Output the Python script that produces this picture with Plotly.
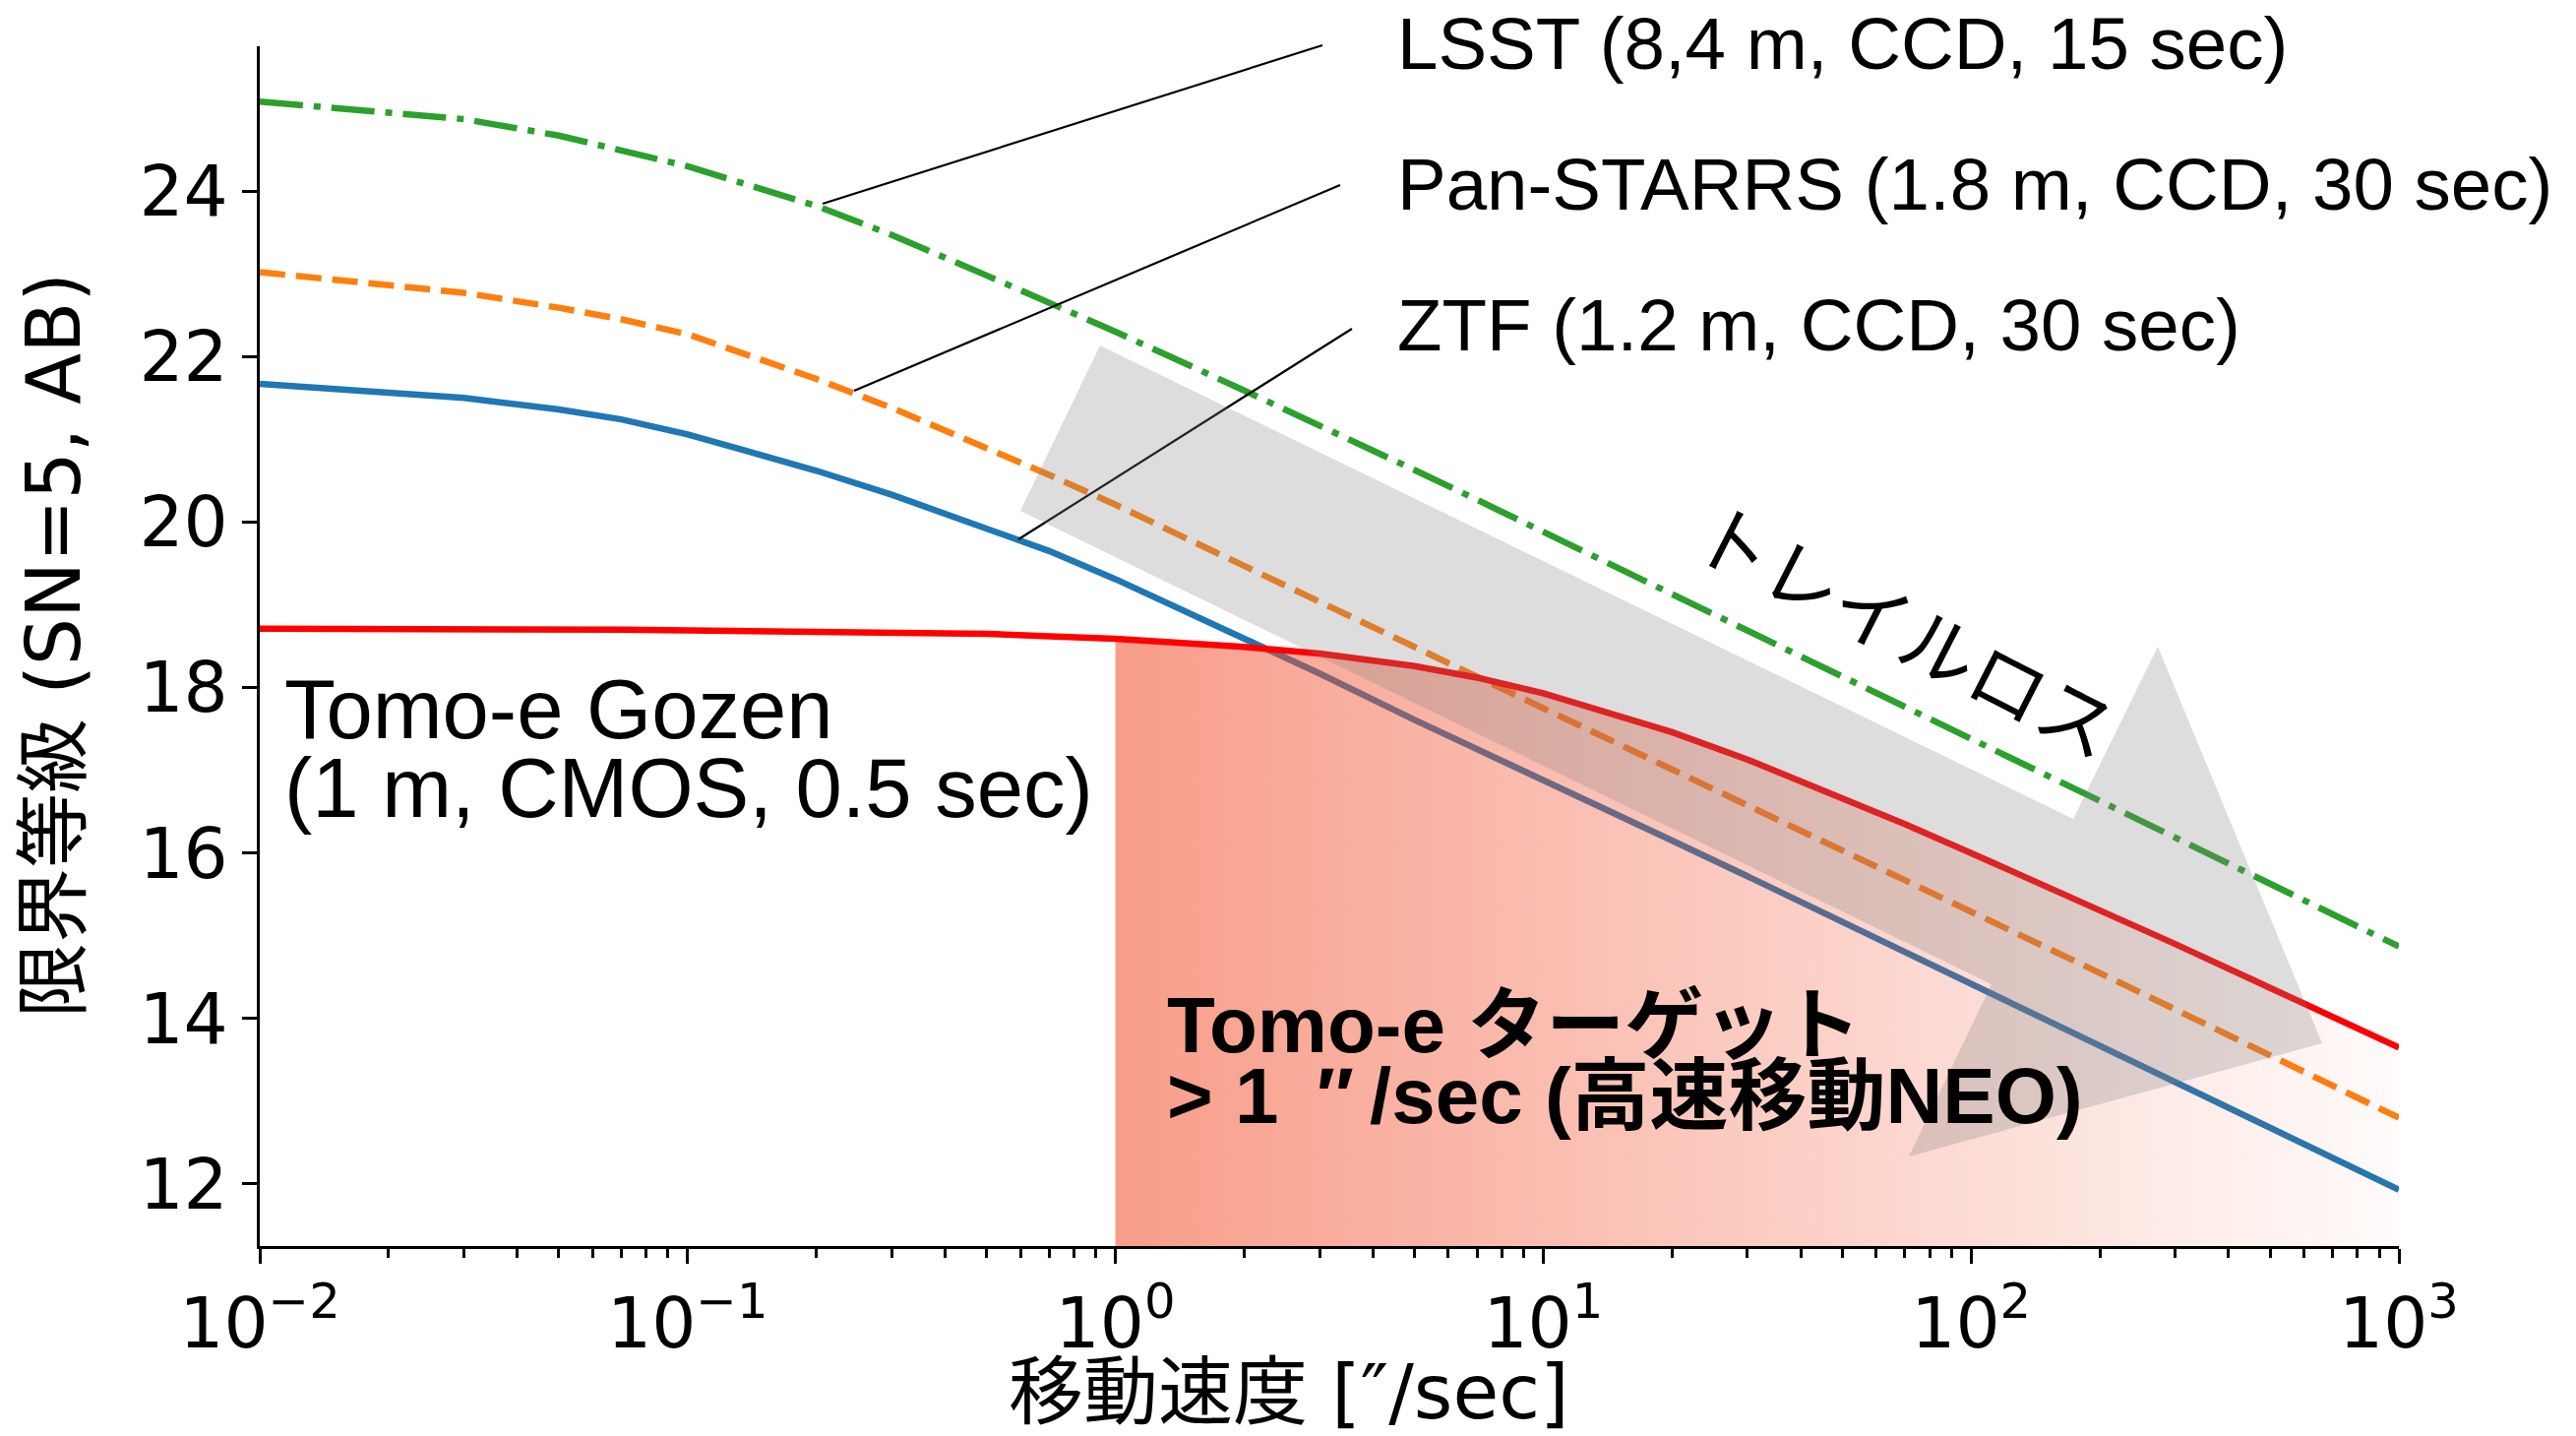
import plotly.graph_objects as go

# ---------------- data ----------------
speed = [0.01, 0.03, 0.05, 0.07, 0.1, 0.2, 0.3, 0.5, 0.7, 1, 2, 3, 5, 7,
         10, 20, 30, 50, 70, 100, 200, 300, 500, 700, 1000]
ztf = [21.67, 21.50, 21.36, 21.24, 21.06, 20.62, 20.33, 19.93, 19.65, 19.31,
       18.59, 18.17, 17.61, 17.26, 16.89, 16.15, 15.72, 15.17, 14.81, 14.43,
       13.68, 13.24, 12.69, 12.32, 11.93]
panstarrs = [23.02, 22.77, 22.59, 22.45, 22.27, 21.73, 21.38, 20.90, 20.57, 20.21,
             19.47, 19.04, 18.50, 18.14, 17.76, 17.02, 16.59, 16.04, 15.68, 15.30,
             14.55, 14.11, 13.55, 13.19, 12.80]
lsst = [25.08, 24.87, 24.67, 24.50, 24.30, 23.82, 23.47, 22.98, 22.65, 22.30,
        21.59, 21.17, 20.63, 20.27, 19.88, 19.13, 18.69, 18.13, 17.76, 17.38,
        16.63, 16.19, 15.63, 15.26, 14.87]
tomoe = [18.71, 18.71, 18.70, 18.70, 18.69, 18.68, 18.67, 18.65, 18.62, 18.59,
         18.49, 18.41, 18.26, 18.12, 17.93, 17.46, 17.13, 16.67, 16.35, 16.00,
         15.31, 14.90, 14.37, 14.02, 13.65]
target_speed = 1  # Tomo-e target region starts at 1 "/sec

xtick_vals = [0.01, 0.1, 1, 10, 100, 1000]
xtick_text = ["10<sup>\u22122</sup>", "10<sup>\u22121</sup>", "10<sup>0</sup>",
              "10<sup>1</sup>", "10<sup>2</sup>", "10<sup>3</sup>"]
ytick_vals = [12, 14, 16, 18, 20, 22, 24]

# ---------------- geometry ----------------
W, H = 2618, 1459
ML, MR, MT, MB = 264, 180, 47, 193
PW = W - ML - MR
PH = H - MT - MB


def pp(x, y):
    """pixel position -> paper coordinates"""
    return (x - ML) / PW, (H - MB - y) / PH


TICK_FONT = "DejaVu Sans, Noto Sans CJK JP, sans-serif"
LABEL_FONT = "Liberation Sans, Arial, Noto Sans CJK JP, sans-serif"
CJK_FONT = "Noto Sans CJK JP, sans-serif"
LW = 6.5

fig = go.Figure()
fig.add_trace(go.Scatter(x=speed, y=ztf, mode="lines",
                         line=dict(color="#1f77b4", width=LW)))
fig.add_trace(go.Scatter(x=speed, y=panstarrs, mode="lines",
                         line=dict(color="#ff7f0e", width=LW, dash="26px,11px")))
fig.add_trace(go.Scatter(x=speed, y=lsst, mode="lines",
                         line=dict(color="#2ca02c", width=LW, dash="44px,11px,7px,11px")))

i0 = speed.index(target_speed)
fig.add_trace(go.Scatter(
    x=speed[i0:], y=tomoe[i0:], mode="none", fill="tozeroy",
    fillgradient=dict(type="horizontal",
                      colorscale=[[0, "rgba(242,80,45,0.56)"],
                                  [1, "rgba(242,80,45,0.02)"]])))
fig.add_trace(go.Scatter(x=speed, y=tomoe, mode="lines",
                         line=dict(color="#ff0000", width=LW)))

# minor ticks
minor_vals = [m * 10 ** e for e in range(-2, 3) for m in range(2, 10)]

fig.update_layout(
    width=W, height=H,
    margin=dict(l=ML, r=MR, t=MT, b=MB),
    paper_bgcolor="white", plot_bgcolor="white",
    showlegend=False,
    xaxis=dict(type="log", range=[-2, 3], tickvals=xtick_vals, ticktext=xtick_text,
               ticks="outside", ticklen=15, tickwidth=3, tickcolor="black",
               showline=True, linecolor="black", linewidth=3,
               showgrid=False, zeroline=False,
               tickfont=dict(family=TICK_FONT, size=71, color="black"),
               minor=dict(ticks="outside", ticklen=9, tickwidth=2.5,
                          tickcolor="black", tickvals=minor_vals, showgrid=False)),
    yaxis=dict(range=[11.25, 25.75], tickvals=ytick_vals,
               ticks="outside", ticklen=15, tickwidth=3, tickcolor="black",
               showline=True, linecolor="black", linewidth=3,
               showgrid=False, zeroline=False,
               tickfont=dict(family=TICK_FONT, size=71, color="black")),
)

# annotation leader lines
for (x0, y0, x1, y1) in [(1344, 46, 836, 207), (1362, 188, 868, 397), (1374, 334, 1035, 548)]:
    a0, b0 = pp(x0, y0)
    a1, b1 = pp(x1, y1)
    fig.add_shape(type="line", xref="paper", yref="paper", x0=a0, y0=b0, x1=a1, y1=b1,
                  line=dict(color="black", width=2.2), layer="above")

# trail-loss arrow
arrow_px = [(1037, 519), (1118, 351), (2107, 832), (2193, 657), (2360, 1060),
            (1940, 1175), (2024, 1000)]
path = ""
for k, (x, y) in enumerate(arrow_px):
    a, b = pp(x, y)
    path += ("M" if k == 0 else "L") + f"{a:.5f},{b:.5f} "
path += "Z"
fig.add_shape(type="path", xref="paper", yref="paper", path=path,
              fillcolor="rgba(128,128,128,0.27)", line=dict(width=0), layer="above")


def text(s, x, y, size, family, xanchor="left", angle=0):
    a, b = pp(x, y)
    fig.add_annotation(text=s, xref="paper", yref="paper", x=a, y=b,
                       xanchor=xanchor, yanchor="middle", showarrow=False,
                       textangle=angle,
                       font=dict(family=family, size=size, color="black"))


TS = "\u2009"  # thin space

text("LSST (8,4 m, CCD, 15 sec)", 1418, 45, 74.5, LABEL_FONT)
text("Pan-STARRS (1.8 m, CCD, 30 sec)", 1418, 188, 74.5, LABEL_FONT)
text("ZTF (1.2 m, CCD, 30 sec)", 1418, 330, 74.5, LABEL_FONT)
text("Tomo-e Gozen", 287, 720, 85, LABEL_FONT)
text("(1 m, CMOS, 0.5 sec)", 287, 801, 85, LABEL_FONT)
text("<b>Tomo-e ターゲット</b>", 1184, 1041, 80, LABEL_FONT)
text("<b>> 1 " + TS + "\u2033" + TS + "/sec (高速移動NEO)</b>", 1184, 1113, 80, LABEL_FONT)
text("トレイルロス", 1939, 637, 78, CJK_FONT, xanchor="center", angle=27)
text("限界等級 (SN=5, AB)", 54, 656, 76, TICK_FONT, xanchor="center", angle=-90)
text("移動速度 [\u2033/sec]", 1310, 1414, 76, TICK_FONT, xanchor="center")

fig.write_html("out.html")
